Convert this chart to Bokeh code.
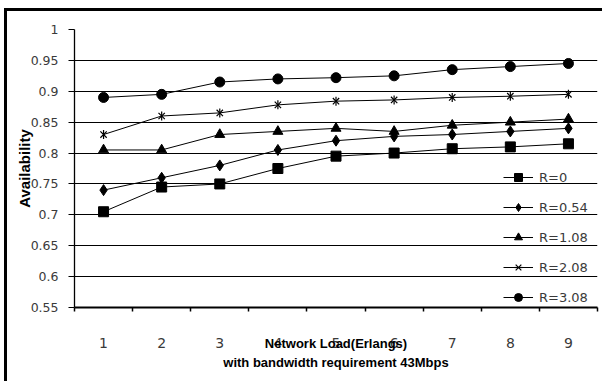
import math
from bokeh.plotting import figure
from bokeh.models import FixedTicker, Range1d
from bokeh.embed import file_html
from bokeh.resources import INLINE

loads = [1, 2, 3, 4, 5, 6, 7, 8, 9]
r_0 = [0.705, 0.745, 0.75, 0.775, 0.795, 0.80, 0.807, 0.81, 0.815]
r_054 = [0.74, 0.76, 0.78, 0.805, 0.82, 0.827, 0.83, 0.835, 0.84]
r_108 = [0.805, 0.805, 0.83, 0.835, 0.84, 0.835, 0.845, 0.85, 0.855]
r_208 = [0.83, 0.86, 0.865, 0.878, 0.884, 0.886, 0.89, 0.892, 0.895]
r_308 = [0.89, 0.895, 0.915, 0.92, 0.922, 0.925, 0.935, 0.94, 0.945]

y_ticks = [0.55, 0.6, 0.65, 0.7, 0.75, 0.8, 0.85, 0.9, 0.95, 1.0]
y_tick_labels = ["0.55", "0.6", "0.65", "0.7", "0.75", "0.8", "0.85", "0.9", "0.95", "1"]
x_tick_labels = ["1", "2", "3", "4", "5", "6", "7", "8", "9"]
series_labels = ["R=0", "R=0.54", "R=1.08", "R=2.08", "R=3.08"]
x_title = "Network Load(Erlangs)\nwith bandwidth requirement 43Mbps"
y_title = "Availability"

p = figure(width=598, height=373, output_backend="svg", toolbar_location=None,
           x_range=Range1d(0.5, 9.5), y_range=Range1d(0.55, 1.0),
           min_border_left=67, min_border_right=8, min_border_top=18, min_border_bottom=77)
p.margin = (8, 0, 0, 4)
p.styles = {"border-left": "3px solid black", "border-top": "3px solid black"}
p.outline_line_color = None
p.background_fill_color = "white"
p.border_fill_color = "white"

# x axis
p.xaxis.ticker = FixedTicker(ticks=loads, minor_ticks=[x + 0.5 for x in range(0, 10)])
p.xaxis.major_label_overrides = {x: l for x, l in zip(loads, x_tick_labels)}
p.xaxis.major_tick_line_color = None
p.xaxis.major_tick_in = 0
p.xaxis.major_tick_out = 0
p.xaxis.minor_tick_in = 0
p.xaxis.minor_tick_out = 4
p.xaxis.minor_tick_line_color = "black"
p.xaxis.minor_tick_line_width = 1.5
p.xaxis.axis_line_color = "black"
p.xaxis.axis_line_width = 2
p.xaxis.major_label_standoff = 26
p.xaxis.major_label_text_font = "DejaVu Sans"
p.xaxis.major_label_text_font_size = "14px"
p.xaxis.major_label_text_color = "#3a3a3a"
p.xaxis.axis_label = x_title
p.xaxis.axis_label_standoff = -15
p.xaxis.axis_label_text_font = "Liberation Sans"
p.xaxis.axis_label_text_font_style = "bold"
p.xaxis.axis_label_text_font_size = "13px"
p.xaxis.axis_label_text_line_height = 1.3
p.xaxis.axis_label_text_color = "black"

# y axis
p.yaxis.ticker = FixedTicker(ticks=y_ticks, minor_ticks=[])
p.yaxis.major_label_overrides = {t: l for t, l in zip(y_ticks, y_tick_labels)}
p.yaxis.major_tick_in = 0
p.yaxis.major_tick_out = 6
p.yaxis.major_tick_line_color = "black"
p.yaxis.axis_line_color = "black"
p.yaxis.axis_line_width = 1.3
p.yaxis.major_label_standoff = 10
p.yaxis.major_label_text_font = "DejaVu Sans"
p.yaxis.major_label_text_font_size = "12.5px"
p.yaxis.major_label_text_color = "#3a3a3a"
p.yaxis.axis_label = y_title
p.yaxis.axis_label_standoff = -5
p.yaxis.axis_label_text_font = "Liberation Sans"
p.yaxis.axis_label_text_font_style = "bold"
p.yaxis.axis_label_text_font_size = "15px"
p.yaxis.axis_label_text_color = "black"

p.xgrid.grid_line_color = None
p.ygrid.ticker = FixedTicker(ticks=y_ticks[1:])
p.ygrid.grid_line_color = "black"
p.ygrid.grid_line_width = 1

series = [r_0, r_054, r_108, r_208, r_308]
markers = ["square", "diamond", "triangle", "x", "circle"]
sizes = [10, 11, 10, 9, 10]
for vals, mk, sz, lbl in zip(series, markers, sizes, series_labels):
    p.line(loads, vals, line_color="black", line_width=1, legend_label=lbl)
    if mk == "x":
        p.scatter(loads, vals, marker="x", size=sz, line_color="black", line_width=1.2, legend_label=lbl)
        p.scatter(loads, vals, marker="dash", angle=math.pi / 2, size=sz, line_color="black",
                  line_width=1.2, legend_label=lbl)
    else:
        p.scatter(loads, vals, marker=mk, size=sz, fill_color="black", line_color="black", legend_label=lbl)

leg = p.legend[0]
leg.location = (429, 0)
leg.padding = 0
leg.margin = 0
leg.spacing = 10
leg.glyph_width = 30
leg.glyph_height = 20
leg.label_height = 20
leg.label_standoff = 6
leg.background_fill_alpha = 0
leg.border_line_alpha = 0
leg.label_text_font = "DejaVu Sans"
leg.label_text_font_size = "13px"
leg.label_text_color = "#3a3a3a"

open("out.html", "w").write(file_html(p, INLINE))
